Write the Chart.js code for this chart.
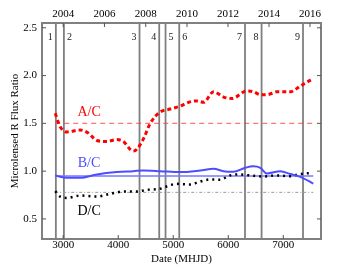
<!DOCTYPE html>
<html lang="en">
<head>
  <meta charset="UTF-8" />
  <title>Microlensed R Flux Ratio</title>
  <script src="https://cdn.jsdelivr.net/npm/chart.js"></script>
  <style>
    html, body { margin: 0; padding: 0; background: #fff; }
    #wrap { width: 346px; height: 270px; }
  </style>
</head>
<body>
  <div id="wrap"><canvas id="fluxChart" width="346" height="270"></canvas></div>

  <script>
    // Dates are MHJD (MJD - 50000)
    const acDates  = [2855, 2945, 3067, 3309, 3455, 3612, 3794, 3976, 4091, 4273, 4340, 4460, 4582, 4751, 4945,
                      5127, 5279, 5430, 5551, 5733, 5915, 6067, 6340, 6460, 6582, 6703, 6885, 7127, 7309, 7500];
    const acRatios = [1.605, 1.465, 1.41, 1.43, 1.40, 1.32, 1.31, 1.33, 1.31, 1.21, 1.23, 1.34, 1.50, 1.615, 1.65,
                      1.68, 1.72, 1.735, 1.72, 1.83, 1.775, 1.76, 1.84, 1.83, 1.80, 1.80, 1.83, 1.83, 1.89, 1.955];

    const bcDates  = [2855, 3067, 3309, 3612, 3976, 4273, 4460, 4764, 5127, 5491, 5733, 5909, 6091, 6309, 6455,
                      6582, 6703, 6945, 7127, 7309, 7545];
    const bcRatios = [0.955, 0.93, 0.93, 0.965, 0.99, 1.0, 1.007, 1.0, 0.99, 1.007, 1.025, 1.0, 0.993, 1.035, 1.05,
                      1.035, 0.975, 1.0, 0.97, 0.94, 0.87];

    const dcDates  = [2855, 2945, 3067, 3309, 3612, 3849, 4091, 4334, 4516, 4758, 4880, 5062, 5304, 5486, 5667,
                      5849, 6031, 6213, 6395, 6636, 6880, 7122, 7304, 7486];
    const dcRatios = [0.79, 0.734, 0.72, 0.745, 0.734, 0.762, 0.786, 0.786, 0.804, 0.815, 0.84, 0.867, 0.86, 0.89, 0.913,
                      0.91, 0.955, 0.965, 0.955, 0.944, 0.955, 0.947, 0.97, 0.98];

    // reference (mean) ratios drawn as horizontal lines
    const meanSpan = [2855, 7545];
    const acMean = 1.5;
    const bcMean = 0.948;
    const dcMean = 0.778;

    // numbered epochs
    const eventDates  = [2867, 3013, 4387, 4745, 4860, 5109, 6304, 6605, 7358];
    const eventLabels = ['1', '2', '3', '4', '5', '6', '7', '8', '9'];

    // axis ticks
    const xTicks = [3000, 4000, 5000, 6000, 7000];
    const yTicks = [0.5, 1.0, 1.5, 2.0, 2.5];
    const yearTicks  = [3000, 3750, 4500, 5250, 5995, 6740, 7485];
    const yearLabels = ['2004', '2006', '2008', '2010', '2012', '2014', '2016'];

    const X_MIN = 2615, X_MAX = 7685, Y_MIN = 0.29, Y_MAX = 2.55;
    const SERIF = "'Liberation Serif', 'DejaVu Serif', serif";
    const FRAME = '#808080';

    function pts(xs, ys) { return xs.map((x, i) => ({ x: x, y: ys[i] })); }
    function hline(v) { return meanSpan.map(x => ({ x: x, y: v })); }

    const datasets = [
      { data: pts(acDates, acRatios), borderColor: '#ff0000', borderWidth: 3, borderDash: [4, 3],
        cubicInterpolationMode: 'monotone', order: 1 },
      { data: hline(acMean), borderColor: 'rgba(255,60,60,0.7)', borderWidth: 1.2, borderDash: [5, 4], order: 2 },
      { data: pts(bcDates, bcRatios), borderColor: '#4d4dff', borderWidth: 2, cubicInterpolationMode: 'monotone', order: 1 },
      { data: hline(bcMean), borderColor: '#7777ff', borderWidth: 1.5, order: 2 },
      { data: pts(dcDates, dcRatios), borderColor: '#000', borderWidth: 2.5, borderDash: [2, 4],
        cubicInterpolationMode: 'monotone', order: 1 },
      { data: hline(dcMean), borderColor: '#999', borderWidth: 1, borderDash: [3, 2, 1, 2], order: 2 }
    ];
    eventDates.forEach(d => {
      datasets.push({ data: [{ x: d, y: Y_MIN }, { x: d, y: Y_MAX }], borderColor: '#7f7f7f', borderWidth: 1.8, order: 5 });
    });

    // inward tick marks, epoch numbers and series names
    const decor = {
      id: 'decor',
      afterDatasetsDraw(chart) {
        const { ctx, chartArea: a, scales } = chart;
        const sx = scales.x, sy = scales.y;
        ctx.save();
        ctx.strokeStyle = '#555';
        ctx.lineWidth = 1;
        ctx.beginPath();
        xTicks.forEach(v => { const p = sx.getPixelForValue(v); ctx.moveTo(p, a.bottom); ctx.lineTo(p, a.bottom - 4); });
        yearTicks.forEach(v => { const p = sx.getPixelForValue(v); ctx.moveTo(p, a.top); ctx.lineTo(p, a.top + 4); });
        yTicks.forEach(v => {
          const p = sy.getPixelForValue(v);
          ctx.moveTo(a.left, p); ctx.lineTo(a.left + 4, p);
          ctx.moveTo(a.right, p); ctx.lineTo(a.right - 4, p);
        });
        ctx.stroke();

        // epoch numbers: most sit left of their line
        const rightSide = ['2', '5', '6'];
        ctx.font = '10px ' + SERIF;
        ctx.fillStyle = '#222';
        ctx.textBaseline = 'middle';
        eventDates.forEach((d, i) => {
          const p = sx.getPixelForValue(d);
          const right = rightSide.includes(eventLabels[i]);
          ctx.textAlign = right ? 'left' : 'right';
          ctx.fillText(eventLabels[i], right ? p + 3 : p - 3, a.top + 14);
        });

        ctx.font = '14px ' + SERIF;
        ctx.textAlign = 'center';
        [['A/C', '#ff0000', 1.62], ['B/C', '#4d4dff', 1.085], ['D/C', '#000', 0.58]].forEach(s => {
          ctx.fillStyle = s[1];
          ctx.fillText(s[0], sx.getPixelForValue(3470), sy.getPixelForValue(s[2]));
        });
        ctx.restore();
      }
    };

    const tickFont = { family: SERIF, size: 11 };

    new Chart(document.getElementById('fluxChart'), {
      type: 'line',
      data: { datasets: datasets },
      options: {
        responsive: false,
        animation: false,
        layout: { padding: 0 },
        elements: { point: { radius: 0 }, line: { fill: false, borderCapStyle: 'butt' } },
        plugins: { legend: { display: false }, tooltip: { enabled: false } },
        scales: {
          x: {
            type: 'linear', position: 'bottom', min: X_MIN, max: X_MAX,
            grid: { display: false, drawTicks: false },
            border: { color: FRAME, width: 2 },
            afterBuildTicks: s => { s.ticks = xTicks.map(v => ({ value: v })); },
            ticks: { font: tickFont, color: '#000', padding: 0, maxRotation: 0, callback: v => String(v) },
            title: { display: true, text: 'Date (MHJD)', font: tickFont, color: '#000', padding: { top: 0, bottom: 4 } },
            afterFit: s => { s.height = 31; }
          },
          x2: {
            type: 'linear', position: 'top', min: X_MIN, max: X_MAX,
            grid: { display: false, drawTicks: false },
            border: { color: FRAME, width: 2 },
            afterBuildTicks: s => { s.ticks = yearTicks.map(v => ({ value: v })); },
            ticks: { font: tickFont, color: '#000', padding: 2, maxRotation: 0,
                     callback: (v, i) => yearLabels[i] },
            afterFit: s => { s.height = 23; }
          },
          y: {
            position: 'left', min: Y_MIN, max: Y_MAX,
            grid: { display: false, drawTicks: false },
            border: { color: FRAME, width: 2 },
            afterBuildTicks: s => { s.ticks = yTicks.map(v => ({ value: v })); },
            ticks: { font: tickFont, color: '#000', padding: 5, callback: v => v.toFixed(1) },
            title: { display: true, text: 'Microlensed R Flux Ratio', font: tickFont, color: '#000',
                     padding: { top: 9, bottom: 0 } },
            afterFit: s => { s.width = 42; }
          },
          y2: {
            position: 'right', min: Y_MIN, max: Y_MAX,
            grid: { display: false, drawTicks: false },
            border: { color: FRAME, width: 2 },
            ticks: { display: false },
            afterFit: s => { s.width = 25; }
          }
        }
      },
      plugins: [decor]
    });
  </script>
</body>
</html>
